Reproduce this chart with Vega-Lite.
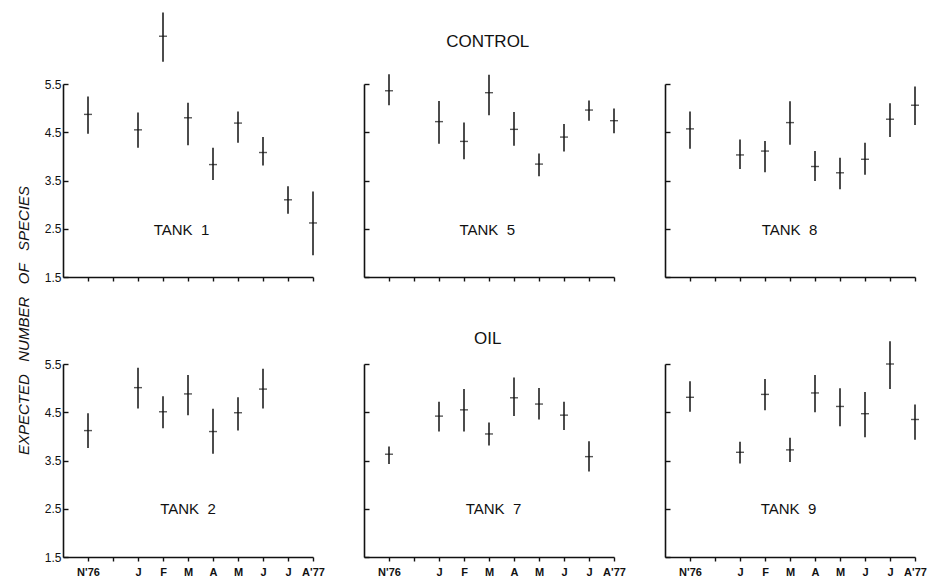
{
  "$schema": "https://vega.github.io/schema/vega-lite/v6.json",
  "padding": {"left": 16, "top": 11, "right": 5, "bottom": 0},
  "background": "white",
  "config": {
    "font": "Liberation Sans",
    "view": {"stroke": null},
    "axis": {"grid": false, "domainColor": "#111", "domainWidth": 1.6, "tickColor": "#111", "tickWidth": 1.4, "labelColor": "#111", "labelFont": "Liberation Sans", "labelFontSize": 12, "titleColor": "#111", "labelOverlap": false}
  },
  "datasets": {
    "d": [
      {"tank": 1, "m": 1, "mean": 4.87, "lo": 4.47, "hi": 5.24},
      {"tank": 1, "m": 3, "mean": 4.55, "lo": 4.18, "hi": 4.91},
      {"tank": 1, "m": 4, "mean": 6.49, "lo": 5.96, "hi": 6.98},
      {"tank": 1, "m": 5, "mean": 4.80, "lo": 4.23, "hi": 5.11},
      {"tank": 1, "m": 6, "mean": 3.83, "lo": 3.51, "hi": 4.18},
      {"tank": 1, "m": 7, "mean": 4.69, "lo": 4.28, "hi": 4.93},
      {"tank": 1, "m": 8, "mean": 4.08, "lo": 3.81, "hi": 4.40},
      {"tank": 1, "m": 9, "mean": 3.10, "lo": 2.81, "hi": 3.38},
      {"tank": 1, "m": 10, "mean": 2.62, "lo": 1.95, "hi": 3.27},
      {"tank": 5, "m": 1, "mean": 5.36, "lo": 5.06, "hi": 5.70},
      {"tank": 5, "m": 3, "mean": 4.72, "lo": 4.26, "hi": 5.15},
      {"tank": 5, "m": 4, "mean": 4.31, "lo": 3.94, "hi": 4.70},
      {"tank": 5, "m": 5, "mean": 5.32, "lo": 4.85, "hi": 5.69},
      {"tank": 5, "m": 6, "mean": 4.56, "lo": 4.22, "hi": 4.92},
      {"tank": 5, "m": 7, "mean": 3.84, "lo": 3.59, "hi": 4.06},
      {"tank": 5, "m": 8, "mean": 4.40, "lo": 4.10, "hi": 4.67},
      {"tank": 5, "m": 9, "mean": 4.96, "lo": 4.74, "hi": 5.16},
      {"tank": 5, "m": 10, "mean": 4.74, "lo": 4.48, "hi": 4.99},
      {"tank": 8, "m": 1, "mean": 4.57, "lo": 4.16, "hi": 4.93},
      {"tank": 8, "m": 3, "mean": 4.03, "lo": 3.74, "hi": 4.35},
      {"tank": 8, "m": 4, "mean": 4.11, "lo": 3.67, "hi": 4.32},
      {"tank": 8, "m": 5, "mean": 4.70, "lo": 4.24, "hi": 5.14},
      {"tank": 8, "m": 6, "mean": 3.79, "lo": 3.49, "hi": 4.11},
      {"tank": 8, "m": 7, "mean": 3.66, "lo": 3.32, "hi": 3.97},
      {"tank": 8, "m": 8, "mean": 3.94, "lo": 3.62, "hi": 4.28},
      {"tank": 8, "m": 9, "mean": 4.77, "lo": 4.40, "hi": 5.10},
      {"tank": 8, "m": 10, "mean": 5.06, "lo": 4.65, "hi": 5.45},
      {"tank": 2, "m": 1, "mean": 4.12, "lo": 3.76, "hi": 4.48},
      {"tank": 2, "m": 3, "mean": 5.01, "lo": 4.58, "hi": 5.42},
      {"tank": 2, "m": 4, "mean": 4.51, "lo": 4.17, "hi": 4.83},
      {"tank": 2, "m": 5, "mean": 4.88, "lo": 4.44, "hi": 5.27},
      {"tank": 2, "m": 6, "mean": 4.10, "lo": 3.64, "hi": 4.57},
      {"tank": 2, "m": 7, "mean": 4.49, "lo": 4.12, "hi": 4.81},
      {"tank": 2, "m": 8, "mean": 4.98, "lo": 4.58, "hi": 5.40},
      {"tank": 7, "m": 1, "mean": 3.63, "lo": 3.43, "hi": 3.79},
      {"tank": 7, "m": 3, "mean": 4.42, "lo": 4.10, "hi": 4.72},
      {"tank": 7, "m": 4, "mean": 4.55, "lo": 4.10, "hi": 4.98},
      {"tank": 7, "m": 5, "mean": 4.05, "lo": 3.81, "hi": 4.29},
      {"tank": 7, "m": 6, "mean": 4.80, "lo": 4.42, "hi": 5.22},
      {"tank": 7, "m": 7, "mean": 4.67, "lo": 4.35, "hi": 5.00},
      {"tank": 7, "m": 8, "mean": 4.44, "lo": 4.13, "hi": 4.72},
      {"tank": 7, "m": 9, "mean": 3.58, "lo": 3.27, "hi": 3.90},
      {"tank": 9, "m": 1, "mean": 4.81, "lo": 4.51, "hi": 5.14},
      {"tank": 9, "m": 3, "mean": 3.67, "lo": 3.44, "hi": 3.89},
      {"tank": 9, "m": 4, "mean": 4.87, "lo": 4.54, "hi": 5.19},
      {"tank": 9, "m": 5, "mean": 3.72, "lo": 3.47, "hi": 3.97},
      {"tank": 9, "m": 6, "mean": 4.90, "lo": 4.50, "hi": 5.27},
      {"tank": 9, "m": 7, "mean": 4.62, "lo": 4.21, "hi": 5.00},
      {"tank": 9, "m": 8, "mean": 4.47, "lo": 3.98, "hi": 4.92},
      {"tank": 9, "m": 9, "mean": 5.50, "lo": 4.98, "hi": 5.97},
      {"tank": 9, "m": 10, "mean": 4.35, "lo": 3.93, "hi": 4.66}
    ]
  },
  "columns": 3,
  "bounds": "flush",
  "spacing": {"row": 87, "column": 51},
  "concat": [
    {
      "width": 250, "height": 193,
      "layer": [
        {"data": {"name": "d"}, "transform": [{"filter": "datum.tank == 1"}],
         "mark": {"type": "rule", "strokeWidth": 1.5, "color": "#111"},
         "encoding": {
           "x": {"field": "m", "type": "quantitative", "scale": {"domain": [0, 10], "nice": false, "zero": false}, "axis": {"values": [1,2,3,4,5,6,7,8,9,10], "tickCount": 20, "labels": false, "title": null, "tickSize": 4}},
           "y": {"field": "lo", "type": "quantitative", "scale": {"domain": [1.5, 5.5], "nice": false, "zero": false}, "axis": {"values": [1.5,2.5,3.5,4.5,5.5], "tickCount": 10, "format": ".1f", "tickSize": -5, "labelPadding": 7, "title": "EXPECTED\u00a0\u00a0\u00a0NUMBER\u00a0\u00a0\u00a0OF\u00a0\u00a0\u00a0SPECIES", "titleFontStyle": "italic", "titleFontWeight": "normal", "titleFontSize": 15, "titleY": 236, "titleX": -35, "titleBaseline": "alphabetic", "titleAngle": -90, "titleAlign": "center"}},
           "y2": {"field": "hi"}
         }},
        {"data": {"name": "d"}, "transform": [{"filter": "datum.tank == 1"}],
         "mark": {"type": "tick", "orient": "horizontal", "size": 8, "thickness": 1.4, "color": "#111"},
         "encoding": {"x": {"field": "m", "type": "quantitative"}, "y": {"field": "mean", "type": "quantitative"}}},
        {"data": {"values": [{"t": "TANK\u00a0\u00a01"}]},
         "mark": {"type": "text", "fontSize": 15, "baseline": "middle", "align": "center", "color": "#111"},
         "encoding": {"x": {"datum": 4.74}, "y": {"datum": 2.47}, "text": {"field": "t"}}}
      ]
    },
    {
      "width": 250, "height": 193,
      "layer": [
        {"data": {"name": "d"}, "transform": [{"filter": "datum.tank == 5"}],
         "mark": {"type": "rule", "strokeWidth": 1.5, "color": "#111"},
         "encoding": {
           "x": {"field": "m", "type": "quantitative", "scale": {"domain": [0, 10], "nice": false, "zero": false}, "axis": {"values": [1,2,3,4,5,6,7,8,9,10], "tickCount": 20, "labels": false, "title": null, "tickSize": 4}},
           "y": {"field": "lo", "type": "quantitative", "scale": {"domain": [1.5, 5.5], "nice": false, "zero": false}, "axis": {"values": [1.5,2.5,3.5,4.5,5.5], "tickCount": 10, "labels": false, "tickSize": -5, "title": null}},
           "y2": {"field": "hi"}
         }},
        {"data": {"name": "d"}, "transform": [{"filter": "datum.tank == 5"}],
         "mark": {"type": "tick", "orient": "horizontal", "size": 8, "thickness": 1.4, "color": "#111"},
         "encoding": {"x": {"field": "m", "type": "quantitative"}, "y": {"field": "mean", "type": "quantitative"}}},
        {"data": {"values": [{"t": "TANK\u00a0\u00a05"}]},
         "mark": {"type": "text", "fontSize": 15, "baseline": "middle", "align": "center", "color": "#111"},
         "encoding": {"x": {"datum": 4.93}, "y": {"datum": 2.47}, "text": {"field": "t"}}},
        {"data": {"values": [{"t": "CONTROL"}]},
         "mark": {"type": "text", "fontSize": 17, "baseline": "alphabetic", "align": "center", "color": "#111"},
         "encoding": {"x": {"datum": 4.95}, "y": {"datum": 6.26}, "text": {"field": "t"}}}
      ]
    },
    {
      "width": 250, "height": 193,
      "layer": [
        {"data": {"name": "d"}, "transform": [{"filter": "datum.tank == 8"}],
         "mark": {"type": "rule", "strokeWidth": 1.5, "color": "#111"},
         "encoding": {
           "x": {"field": "m", "type": "quantitative", "scale": {"domain": [0, 10], "nice": false, "zero": false}, "axis": {"values": [1,2,3,4,5,6,7,8,9,10], "tickCount": 20, "labels": false, "title": null, "tickSize": 4}},
           "y": {"field": "lo", "type": "quantitative", "scale": {"domain": [1.5, 5.5], "nice": false, "zero": false}, "axis": {"values": [1.5,2.5,3.5,4.5,5.5], "tickCount": 10, "labels": false, "tickSize": -5, "title": null}},
           "y2": {"field": "hi"}
         }},
        {"data": {"name": "d"}, "transform": [{"filter": "datum.tank == 8"}],
         "mark": {"type": "tick", "orient": "horizontal", "size": 8, "thickness": 1.4, "color": "#111"},
         "encoding": {"x": {"field": "m", "type": "quantitative"}, "y": {"field": "mean", "type": "quantitative"}}},
        {"data": {"values": [{"t": "TANK\u00a0\u00a08"}]},
         "mark": {"type": "text", "fontSize": 15, "baseline": "middle", "align": "center", "color": "#111"},
         "encoding": {"x": {"datum": 4.98}, "y": {"datum": 2.47}, "text": {"field": "t"}}}
      ]
    },
    {
      "width": 250, "height": 193,
      "layer": [
        {"data": {"name": "d"}, "transform": [{"filter": "datum.tank == 2"}],
         "mark": {"type": "rule", "strokeWidth": 1.5, "color": "#111"},
         "encoding": {
           "x": {"field": "m", "type": "quantitative", "scale": {"domain": [0, 10], "nice": false, "zero": false}, "axis": {"values": [1,2,3,4,5,6,7,8,9,10], "tickCount": 20, "title": null, "tickSize": 4, "labelPadding": 5, "labelFontWeight": "bold", "labelFontSize": 11, "labelFlush": false, "labelOverlap": false, "labelExpr": "['', \"N'76\", '', 'J', 'F', 'M', 'A', 'M', 'J', 'J', \"A'77\"][datum.value]"}},
           "y": {"field": "lo", "type": "quantitative", "scale": {"domain": [1.5, 5.5], "nice": false, "zero": false}, "axis": {"values": [1.5,2.5,3.5,4.5,5.5], "tickCount": 10, "format": ".1f", "tickSize": -5, "labelPadding": 7, "title": null}},
           "y2": {"field": "hi"}
         }},
        {"data": {"name": "d"}, "transform": [{"filter": "datum.tank == 2"}],
         "mark": {"type": "tick", "orient": "horizontal", "size": 8, "thickness": 1.4, "color": "#111"},
         "encoding": {"x": {"field": "m", "type": "quantitative"}, "y": {"field": "mean", "type": "quantitative"}}},
        {"data": {"values": [{"t": "TANK\u00a0\u00a02"}]},
         "mark": {"type": "text", "fontSize": 15, "baseline": "middle", "align": "center", "color": "#111"},
         "encoding": {"x": {"datum": 5.0}, "y": {"datum": 2.49}, "text": {"field": "t"}}}
      ]
    },
    {
      "width": 250, "height": 193,
      "layer": [
        {"data": {"name": "d"}, "transform": [{"filter": "datum.tank == 7"}],
         "mark": {"type": "rule", "strokeWidth": 1.5, "color": "#111"},
         "encoding": {
           "x": {"field": "m", "type": "quantitative", "scale": {"domain": [0, 10], "nice": false, "zero": false}, "axis": {"values": [1,2,3,4,5,6,7,8,9,10], "tickCount": 20, "title": null, "tickSize": 4, "labelPadding": 5, "labelFontWeight": "bold", "labelFontSize": 11, "labelFlush": false, "labelOverlap": false, "labelExpr": "['', \"N'76\", '', 'J', 'F', 'M', 'A', 'M', 'J', 'J', \"A'77\"][datum.value]"}},
           "y": {"field": "lo", "type": "quantitative", "scale": {"domain": [1.5, 5.5], "nice": false, "zero": false}, "axis": {"values": [1.5,2.5,3.5,4.5,5.5], "tickCount": 10, "labels": false, "tickSize": -5, "title": null}},
           "y2": {"field": "hi"}
         }},
        {"data": {"name": "d"}, "transform": [{"filter": "datum.tank == 7"}],
         "mark": {"type": "tick", "orient": "horizontal", "size": 8, "thickness": 1.4, "color": "#111"},
         "encoding": {"x": {"field": "m", "type": "quantitative"}, "y": {"field": "mean", "type": "quantitative"}}},
        {"data": {"values": [{"t": "TANK\u00a0\u00a07"}]},
         "mark": {"type": "text", "fontSize": 15, "baseline": "middle", "align": "center", "color": "#111"},
         "encoding": {"x": {"datum": 5.18}, "y": {"datum": 2.49}, "text": {"field": "t"}}},
        {"data": {"values": [{"t": "OIL"}]},
         "mark": {"type": "text", "fontSize": 17, "baseline": "alphabetic", "align": "center", "color": "#111"},
         "encoding": {"x": {"datum": 4.95}, "y": {"datum": 5.92}, "text": {"field": "t"}}}
      ]
    },
    {
      "width": 250, "height": 193,
      "layer": [
        {"data": {"name": "d"}, "transform": [{"filter": "datum.tank == 9"}],
         "mark": {"type": "rule", "strokeWidth": 1.5, "color": "#111"},
         "encoding": {
           "x": {"field": "m", "type": "quantitative", "scale": {"domain": [0, 10], "nice": false, "zero": false}, "axis": {"values": [1,2,3,4,5,6,7,8,9,10], "tickCount": 20, "title": null, "tickSize": 4, "labelPadding": 5, "labelFontWeight": "bold", "labelFontSize": 11, "labelFlush": false, "labelOverlap": false, "labelExpr": "['', \"N'76\", '', 'J', 'F', 'M', 'A', 'M', 'J', 'J', \"A'77\"][datum.value]"}},
           "y": {"field": "lo", "type": "quantitative", "scale": {"domain": [1.5, 5.5], "nice": false, "zero": false}, "axis": {"values": [1.5,2.5,3.5,4.5,5.5], "tickCount": 10, "labels": false, "tickSize": -5, "title": null}},
           "y2": {"field": "hi"}
         }},
        {"data": {"name": "d"}, "transform": [{"filter": "datum.tank == 9"}],
         "mark": {"type": "tick", "orient": "horizontal", "size": 8, "thickness": 1.4, "color": "#111"},
         "encoding": {"x": {"field": "m", "type": "quantitative"}, "y": {"field": "mean", "type": "quantitative"}}},
        {"data": {"values": [{"t": "TANK\u00a0\u00a09"}]},
         "mark": {"type": "text", "fontSize": 15, "baseline": "middle", "align": "center", "color": "#111"},
         "encoding": {"x": {"datum": 4.94}, "y": {"datum": 2.49}, "text": {"field": "t"}}}
      ]
    }
  ]
}
